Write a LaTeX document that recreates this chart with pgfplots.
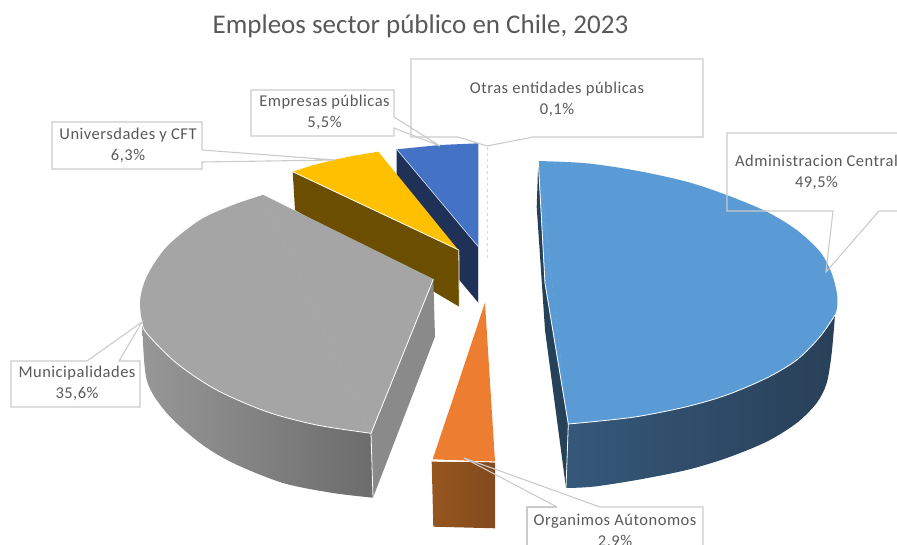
\documentclass[border=0pt]{standalone}
\usepackage{fontspec}
\setmainfont{Carlito}
\usepackage{pgfplots}
\pgfplotsset{compat=1.18}
\definecolor{txt}{HTML}{595959}
\definecolor{boxline}{HTML}{CBCBCB}
\definecolor{HTMLnavy}{HTML}{1F3157}
\definecolor{HTMLblue}{HTML}{4472C4}
\definecolor{HTMLbrown}{HTML}{6B4E00}
\definecolor{HTMLyellow}{HTML}{FFC000}
\definecolor{HTMLgrayin}{HTML}{8A8A8A}
\definecolor{HTMLgrayl}{HTML}{979797}
\definecolor{HTMLgrayr}{HTML}{6C6C6C}
\definecolor{HTMLgray}{HTML}{A5A5A5}
\definecolor{HTMLorl}{HTML}{96561F}
\definecolor{HTMLorr}{HTML}{824A1E}
\definecolor{HTMLorange}{HTML}{ED7D31}
\definecolor{HTMLadmin}{HTML}{264259}
\definecolor{HTMLadl}{HTML}{35587A}
\definecolor{HTMLadr}{HTML}{294058}
\definecolor{HTMLsky}{HTML}{5B9BD5}
\newfontfamily\spaced[LetterSpace=3]{Carlito}
\tikzset{lab/.style={text=txt,font=\spaced\fontsize{16.5}{21}\selectfont,align=center,inner sep=0pt}}
\pgfplotsset{box/.style={draw=boxline,line width=1.1pt,mark=none},
  face/.style={draw=none,mark=none},
  edge/.style={draw=white,line width=0.8pt,mark=none}}

\begin{document}
\begin{tikzpicture}
\clip (0,0) rectangle (897pt,545pt);
\begin{axis}[
    at={(0,0)},anchor=south west,
    scale only axis,width=897pt,height=545pt,
    xmin=0,xmax=897,ymin=0,ymax=545,y dir=reverse,
    axis lines=none,
]
% Empresas publicas, side then top
\addplot[face,fill=HTMLnavy] coordinates {(396.7,149.3) (478.3,246.7) (478.3,302.7) (396.7,205)};
\addplot[face,fill=HTMLblue] coordinates {(396.7,149.3) (440,145) (478.3,143.3) (478.3,246.7)};
\addplot[edge,draw=white!80!HTMLblue,line width=0.6pt] coordinates {(396.7,149.3) (478.3,246.7) (478.3,302.7)};
% Universidades y CFT
\addplot[face,fill=HTMLbrown] coordinates {(292.7,171.7) (295,210) (459.3,306.7) (459.3,250)};
\addplot[face,fill=HTMLyellow] coordinates {(292.7,171.7) (312,165.5) (333,160) (355,155.5) (378.3,151.7) (458.3,250)};
\addplot[edge] coordinates {(292.7,171.7) (458.8,250) (459.3,306.7)};
% Municipalidades: inner wall, outer wall, top
\addplot[face,fill=HTMLgrayin] coordinates {(371,433.3) (433.3,279.3) (435,336.7) (373,497.7)};
\addplot[face,left color=HTMLgrayl,right color=HTMLgrayr] coordinates {(142.3,323) (146.7,333.3) (176.7,363.3) (216.7,390) (266.7,411.7) (316.7,425) (371,433.3) (373,497.7) (290,460)};
\addplot[face,smooth,left color=HTMLgrayl,right color=HTMLgrayr] coordinates {(142.3,323) (146.7,380) (166.7,413) (200,443) (233,463) (283,483) (333,493) (373,497.7)};
\addplot[face,smooth,fill=HTMLgray] coordinates {(262.7,195) (233,205) (200,220) (166.7,246.7) (146.7,276.7) (140,303.3) (146.7,333.3) (176.7,363.3) (216.7,390) (266.7,411.7) (316.7,425) (371,433.3)};
\addplot[draw=HTMLgray,line width=0.6pt,fill=HTMLgray,mark=none] coordinates {(262.7,195) (433.3,279.3) (371,433.3) (262.7,195)};
\addplot[edge,smooth] coordinates {(142.3,323) (146.7,333.3) (176.7,363.3) (216.7,390) (266.7,411.7) (316.7,425) (371,433.3)};
\addplot[edge] coordinates {(433.3,279.3) (371,433.3) (373,497.7)};
% Organismos autonomos
\addplot[face,left color=HTMLorl,right color=HTMLorr] coordinates {(431.7,461.7) (495,462.3) (495,528.3) (433.3,526.7)};
\addplot[face,fill=HTMLorange] coordinates {(485,302.7) (495,461.7) (432.7,459.3)};
\addplot[edge] coordinates {(432.7,460.3) (495,462)};
% Administracion central: inner wall, outer wall, top
\addplot[face,fill=HTMLadmin] coordinates {(538.3,161) (536.7,207) (545,330) (566,488) (568.3,424) (545,283)};
\addplot[face,left color=HTMLadl,right color=HTMLadr] coordinates {(566,488) (568.3,424) (593,421.7) (636.7,416.7) (686.7,406.7) (726.7,395) (766.7,378) (796.7,360) (820,336.7) (835,315) (690,440)};
\addplot[face,smooth,left color=HTMLadl,right color=HTMLadr] coordinates {(566,488) (593,486.7) (636.7,480) (686.7,470) (726.7,458) (766.7,441.7) (796.7,423) (816.7,403) (826.7,383) (831.7,353) (835,315)};
\addplot[face,smooth,fill=HTMLsky] coordinates {(538.3,161) (586.7,163.3) (636.7,170.7) (686.7,181.7) (726.7,195) (766.7,211.7) (796.7,230) (820,251.7) (831.7,273.3) (837.3,296.7) (835,315) (820,336.7) (796.7,360) (766.7,378) (726.7,395) (686.7,406.7) (636.7,416.7) (593,421.7) (568.3,424)};
\addplot[draw=HTMLsky,line width=0.6pt,fill=HTMLsky,mark=none] coordinates {(538.3,161) (568.3,424) (545,283) (538.3,161)};
\addplot[edge,smooth] coordinates {(835,315) (820,336.7) (796.7,360) (766.7,378) (726.7,395) (686.7,406.7) (636.7,416.7) (593,421.7) (568.3,424)};
\addplot[edge] coordinates {(566,488) (568.3,424) (545,283) (538.3,161)};
% Otras entidades, a sliver
\addplot[draw=green!15!gray!30,line width=0.6pt,mark=none,dashed] coordinates {(487,147) (487,258)};
% callout outlines, no fill
\addplot[box] coordinates {(458,137) (411,137) (411,59) (703,59) (703,137) (533,137) (487,146) (458,137)};
\addplot[box] coordinates {(394,117) (394,90) (251,90) (251,136) (394,136) (394,128) (440,146) (394,117)};
\addplot[box] coordinates {(202,150) (202,122) (52,122) (52,169) (202,169) (202,162) (335,160) (202,150)};
\addplot[box] coordinates {(897,211) (879,211) (826,272) (833,211) (727,211) (727,133) (897,133)};
\addplot[box] coordinates {(87,361) (11,361) (11,407) (140,407) (140,361) (119,361) (142,322) (87,361)};
\addplot[box] coordinates {(557,507) (527,507) (527,545)};
\addplot[box] coordinates {(703,545) (703,507) (600,507) (464,458) (557,507)};
% texts
\node[text=txt,font=\fontsize{27}{32}\selectfont,inner sep=0pt] at (axis cs:420.5,26) {Empleos sector público en Chile, 2023};
\node[lab] at (axis cs:557,99) {Otras entidades públicas\\0,1\%};
\node[lab] at (axis cs:324.5,112) {Empresas públicas\\5,5\%};
\node[lab] at (axis cs:128,145) {Universdades y CFT\\6,3\%};
\node[lab] at (axis cs:816.5,172.5) {Administracion Central\\49,5\%};
\node[lab] at (axis cs:77,383.5) {Municipalidades\\35,6\%};
\node[lab] at (axis cs:615,531) {Organimos Aútonomos\\2,9\%};
\end{axis}
\end{tikzpicture}
\end{document}
